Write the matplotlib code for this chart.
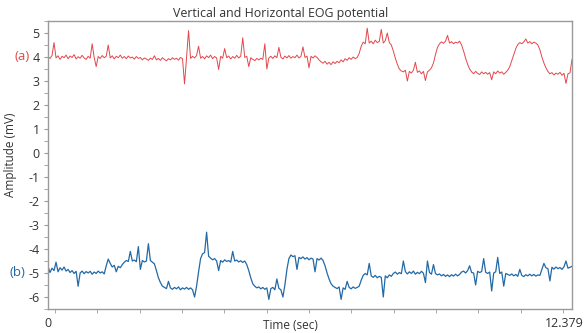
import numpy as np
import matplotlib
matplotlib.use("Agg")
import matplotlib.pyplot as plt
import matplotlib.transforms as mtransforms

plt.rcParams['font.family'] = ['Open Sans', 'DejaVu Sans']
plt.rcParams['axes.unicode_minus'] = False

T_END = 12.379
title = "Vertical and Horizontal EOG potential"
x_tick_labels = ["0", "12.379"]
y_ticks = [-6, -5, -4, -3, -2, -1, 0, 1, 2, 3, 4, 5]

# (a) vertical EOG (red), sampled evenly from 0 to 12.379 s
eog_a = [
    4.02, 3.94, 4.06, 4.60, 3.96, 4.05, 3.90, 4.03, 3.97, 4.08,
    3.93, 4.04, 3.98, 4.10, 3.92, 4.01, 3.95, 4.07, 3.96, 3.90,
    4.03, 3.95, 4.55, 3.98, 3.60, 4.02, 3.94, 4.06, 3.97, 4.03,
    4.50, 3.96, 4.05, 3.92, 4.03, 3.97, 4.08, 3.95, 4.02, 3.93,
    4.04, 3.96, 4.00, 3.91, 4.02, 3.94, 3.98, 3.88, 3.96, 3.92,
    3.86, 3.95, 3.90, 4.05, 3.88, 3.94, 3.86, 3.97, 3.90, 3.84,
    3.93, 3.88, 3.97, 3.90, 3.95, 3.87, 3.98, 3.93, 2.88, 3.96,
    5.10, 3.94, 4.03, 3.96, 4.06, 4.45, 3.95, 4.02, 3.92, 4.05,
    3.97, 4.08, 3.93, 4.02, 3.96, 3.48, 4.03, 3.95, 4.35, 3.97,
    4.04, 3.92, 4.02, 3.95, 4.07, 3.96, 4.04, 4.80, 3.98, 4.03,
    3.60, 3.97, 3.90, 3.85, 3.94, 3.88, 3.95, 3.90, 4.55, 3.50,
    3.96, 4.03, 3.94, 4.05, 3.97, 4.40, 3.99, 3.92, 4.04, 3.96,
    4.06, 3.95, 4.02, 3.97, 4.08, 3.96, 4.03, 4.42, 3.98, 4.04,
    3.55, 4.03, 3.96, 4.05, 3.98, 3.88, 3.80, 3.74, 3.82, 3.70,
    3.78, 3.68, 3.80, 3.73, 3.82, 3.76, 3.88, 3.80, 3.93, 3.86,
    3.97, 3.90, 4.00, 3.93, 3.98, 4.15, 4.45, 4.62, 4.55, 5.20,
    4.58, 4.66, 4.55, 4.70, 4.60, 4.65, 5.15, 4.58, 4.68, 5.00,
    4.60, 4.50, 4.25, 3.95, 3.70, 3.50, 3.42, 3.38, 3.45, 3.00,
    3.40, 3.33, 3.45, 3.78, 3.36, 3.42, 3.30, 3.40, 3.02, 3.38,
    3.45, 3.55, 3.75, 4.10, 4.40, 4.55, 4.63, 4.57, 4.66, 4.90,
    4.58, 4.64, 4.55, 4.62, 4.58, 4.66, 4.50, 4.25, 3.95, 3.70,
    3.50, 3.38, 3.30, 3.40, 3.32, 3.27, 3.38, 3.30, 3.36, 3.28,
    3.35, 3.05, 3.38, 3.30, 3.42, 3.33, 3.38, 3.28, 3.36, 3.45,
    3.60, 3.85, 4.10, 4.35, 4.52, 4.60, 4.55, 4.63, 4.75, 4.58,
    4.64, 4.55, 4.62, 4.58, 4.50, 4.30, 4.00, 3.75, 3.55, 3.40,
    3.30, 3.35, 3.25, 3.33, 3.28, 3.36, 3.24, 3.32, 2.90, 3.30,
    3.34, 3.90,
]

# (b) horizontal EOG (blue), sampled evenly from 0 to 12.379 s
eog_b = [
    -4.72, -4.98, -4.80, -4.90, -4.55, -4.95, -4.78, -4.88, -4.75, -4.92,
    -4.85, -4.98, -4.90, -5.02, -4.93, -5.55, -5.00, -4.92, -5.03, -4.94,
    -5.00, -4.93, -5.05, -4.96, -5.02, -4.92, -5.00, -4.95, -5.04, -4.70,
    -4.42, -4.60, -4.75, -4.68, -4.95, -4.72, -4.78, -4.65, -4.55, -4.48,
    -4.52, -4.10, -4.50, -4.46, -4.53, -3.90, -4.85, -4.48, -4.54, -4.50,
    -3.78, -4.48, -4.55, -4.62, -4.90, -5.20, -5.40, -5.55, -5.60, -5.65,
    -5.35, -5.62, -5.68, -5.60, -5.66, -5.58, -5.70, -5.62, -5.67, -5.60,
    -5.68, -5.62, -5.70, -6.00, -5.55, -4.95, -4.40, -4.20, -4.15, -3.30,
    -4.30, -4.38, -4.45, -4.40, -4.50, -4.90, -4.48, -4.55, -4.45, -4.52,
    -4.48, -4.55, -4.10, -4.50, -4.46, -4.54, -4.49, -4.56, -4.50, -4.65,
    -4.90, -5.20, -5.45, -5.55, -5.62, -5.58, -5.66, -5.60, -5.68, -5.62,
    -6.10, -5.65, -5.60, -5.70, -5.25, -5.64, -5.70, -6.00, -5.50, -4.85,
    -4.40, -4.25, -4.32, -4.28, -4.85, -4.35, -4.40, -4.33, -4.42, -4.36,
    -4.45, -4.38, -4.42, -4.95, -4.40, -4.46, -4.38, -4.48, -4.70, -5.00,
    -5.25, -5.45, -5.55, -5.60, -5.65, -5.58, -6.10, -5.62, -5.68, -5.35,
    -5.60, -5.66, -5.58, -5.64, -5.60, -5.55, -5.30, -5.10, -5.02, -5.08,
    -4.60, -5.12, -5.18, -5.10, -5.20, -5.14, -5.18, -6.00, -5.12, -5.20,
    -5.08, -5.14, -5.02, -4.96, -5.05, -4.98, -5.03, -4.50, -4.94, -5.04,
    -4.95, -5.02, -4.92, -5.05, -4.97, -5.03, -4.93, -5.01, -5.40, -4.50,
    -4.98, -5.05, -4.65, -5.02, -5.08, -5.04, -5.12, -5.06, -5.14, -5.08,
    -5.15, -5.07, -5.13, -5.05, -5.12, -5.06, -4.96, -4.92, -5.00, -4.90,
    -4.70, -4.98, -5.00, -5.50, -4.93, -4.98, -4.94, -4.40, -4.97, -5.02,
    -4.96, -5.75, -5.00, -4.95, -4.35, -5.02, -4.96, -5.55, -5.02, -5.06,
    -5.10, -5.04, -5.12, -5.06, -5.14, -4.85, -5.10, -5.15, -5.07, -5.12,
    -5.05, -5.12, -5.06, -5.13, -5.08, -5.10, -4.85, -4.60, -4.78, -4.82,
    -5.33, -4.76, -4.84, -4.75, -4.82, -4.77, -4.85, -4.74, -4.50, -4.80,
    -4.76, -4.72,
]

t_a = np.linspace(0, T_END, len(eog_a))
t_b = np.linspace(0, T_END, len(eog_b))

red = "#e2474b"
blue = "#2369a6"
frame = "#9a9a9a"
txt = "#333333"

fig = plt.figure(figsize=(5.85, 3.33), dpi=100)
ax = fig.add_axes([48/585, 1 - 309/333, 524/585, 288/333])

ax.plot(t_a, eog_a, color=red, lw=0.7)
ax.plot(t_b, eog_b, color=blue, lw=0.9)

ax.set_xlim(0, T_END)
ax.set_ylim(-6.5, 5.5)

ax.set_yticks(y_ticks)
ax.set_yticks(np.arange(-6.5, 5.6, 1.0), minor=True)
ax.set_xticks([0, T_END])
ax.set_xticklabels(x_tick_labels)
ax.set_xticks(np.arange(0.165, T_END, 1.0), minor=True)

for s in ax.spines.values():
    s.set_color(frame)
    s.set_linewidth(1.0)

ax.tick_params(axis='y', which='both', direction='out', length=3, color=frame,
               labelsize=9, labelcolor=txt, pad=3)
ax.tick_params(axis='x', which='minor', direction='out', length=3, color=frame)
ax.tick_params(axis='x', which='major', length=0, labelsize=9, labelcolor=txt, pad=6)

# shift last x label slightly left so it stays inside the figure
lbls = ax.get_xticklabels()
offset = mtransforms.ScaledTranslation(-8/100, 0, fig.dpi_scale_trans)
lbls[1].set_transform(lbls[1].get_transform() + offset)

ax.set_title(title, fontsize=8.9, color=txt, pad=3, x=0.443)
ax.set_ylabel("Amplitude (mV)", fontsize=8.5, color=txt)
ax.yaxis.set_label_coords(-0.059, 0.535)
ax.set_xlabel("Time (sec)", fontsize=8.5, color=txt)
ax.xaxis.set_label_coords(0.462, -0.035)

ax.text(-0.034, 4, "(a)", transform=ax.get_yaxis_transform(), ha='right', va='center',
        fontsize=9.5, color=red)
ax.text(-0.044, -5, "(b)", transform=ax.get_yaxis_transform(), ha='right', va='center',
        fontsize=9.5, color=blue)

fig.savefig("out.png", dpi=100)
